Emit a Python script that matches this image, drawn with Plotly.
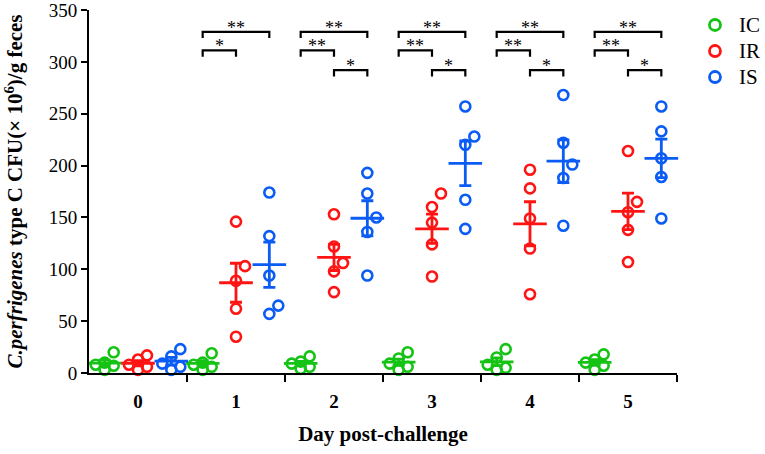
import math
import numpy as np
import plotly.graph_objects as go

# valori (CFU x 10^6 / g feci), 5 animali per gruppo
days = [0, 1, 2, 3, 4, 5]
day_labels = ["0", "1", "2", "3", "4", "5"]
groups = ["IC", "IR", "IS"]
colors = {"IC": "#14C314", "IR": "#FF1414", "IS": "#0A5CF5"}

ic_values = [
    [20, 10, 8, 7, 3],
    [19, 10, 8, 6, 3],
    [16, 11, 9, 6, 4],
    [20, 14, 9, 6, 3],
    [23, 15, 8, 5, 3],
    [18, 13, 10, 7, 3],
]
ir_values = [
    [17, 13, 8, 6, 3],
    [146, 103, 89, 62, 35],
    [153, 122, 106, 98, 78],
    [173, 160, 145, 124, 93],
    [196, 178, 149, 120, 76],
    [214, 165, 155, 138, 107],
]
is_values = [
    [23, 16, 9, 6, 3],
    [174, 132, 94, 65, 57],
    [193, 173, 150, 136, 94],
    [257, 228, 220, 167, 139],
    [268, 222, 201, 188, 142],
    [257, 233, 207, 189, 149],
]

# significativita' per giorno: (gruppo1, gruppo2, livello, etichetta)
sig_day1 = [("IC", "IS", 0, "**"), ("IC", "IR", 1, "*")]
sig_other = [("IC", "IS", 0, "**"), ("IC", "IR", 1, "**"), ("IR", "IS", 2, "*")]
significance = {1: sig_day1, 2: sig_other, 3: sig_other, 4: sig_other, 5: sig_other}

data = {"IC": ic_values, "IR": ir_values, "IS": is_values}

# geometria del grafico
group_offset = {"IC": -0.34, "IR": 0.0, "IS": 0.34}
PX_PER_DAY = 98.0
PX_PER_UNIT = 363.0 / 350.0
bracket_levels = [329, 311, 292]
leg = 6


def swarm(values, min_dist=15.0, step=9.0):
    # disposizione semplice tipo beeswarm, in pixel
    offsets = [0.0] * len(values)
    placed = []
    for i in sorted(range(len(values)), key=lambda k: values[k]):
        best, best_d = 0.0, -1.0
        for k in [0, 1, -1]:
            dx = k * step
            if placed:
                d = min(math.hypot(dx - px, (values[i] - pv) * PX_PER_UNIT) for px, pv in placed)
            else:
                d = math.inf
            if d >= min_dist:
                best, best_d = dx, d
                break
            if d > best_d:
                best, best_d = dx, d
        placed.append((best, values[i]))
        offsets[i] = best / PX_PER_DAY
    return offsets


fig = go.Figure()
font = "Liberation Serif, Times New Roman, serif"

for g in groups:
    xs, ys = [], []
    for d, vals in zip(days, data[g]):
        offs = swarm(vals)
        xs += [d + group_offset[g] + o for o in offs]
        ys += vals
    fig.add_trace(go.Scatter(
        x=xs, y=ys, mode="markers", name=g, showlegend=False,
        marker=dict(symbol="circle-open", size=10, color=colors[g], line=dict(width=2.6)),
        cliponaxis=False,
    ))

for g in groups:
    means = [float(np.mean(v)) for v in data[g]]
    sems = [float(np.std(v, ddof=1) / np.sqrt(len(v))) for v in data[g]]
    fig.add_trace(go.Scatter(
        x=[d + group_offset[g] for d in days], y=means, mode="markers",
        showlegend=False, hoverinfo="skip",
        marker=dict(symbol="line-ew-open", size=24, color=colors[g], line=dict(width=2.8)),
        error_y=dict(type="data", array=sems, visible=True, color=colors[g], thickness=2.8, width=6),
        cliponaxis=False,
    ))

shapes = []
annotations = []
for d, comps in significance.items():
    for g1, g2, lvl, label in comps:
        x1 = d + group_offset[g1]
        x2 = d + group_offset[g2]
        y = bracket_levels[lvl]
        shapes.append(dict(
            type="path", xref="x", yref="y",
            path=f"M {x1},{y - leg} L {x1},{y} L {x2},{y} L {x2},{y - leg}",
            line=dict(color="black", width=2.2),
        ))
        annotations.append(dict(
            x=(x1 + x2) / 2, y=y, xref="x", yref="y", text=label, showarrow=False,
            yanchor="middle", yshift=4, font=dict(family=font, size=18, color="black"),
        ))

# legenda disegnata a mano (spaziatura come nell'originale)
legend_x = 1.0646
legend_y = [0.9587, 0.887, 0.8154]
for g, ly in zip(groups, legend_y):
    shapes.append(dict(
        type="circle", xref="paper", yref="paper", xsizemode="pixel", ysizemode="pixel",
        xanchor=legend_x, yanchor=ly, x0=-5.5, x1=5.5, y0=-5.5, y1=5.5,
        line=dict(color=colors[g], width=2.8),
    ))
    annotations.append(dict(
        x=legend_x, y=ly, xref="paper", yref="paper", text=g, showarrow=False,
        xanchor="left", yanchor="middle", xshift=22,
        font=dict(family=font, size=21, color="black"),
    ))

fig.update_layout(
    width=765, height=454,
    margin=dict(l=89, r=88, t=10, b=81, autoexpand=False),
    plot_bgcolor="white", paper_bgcolor="white",
    font=dict(family=font, color="black"),
    shapes=shapes, annotations=annotations,
    showlegend=False,
)

fig.update_xaxes(
    range=[-0.5, 5.5], tickvals=days, ticktext=["<b>" + t + "</b>" for t in day_labels],
    showgrid=False, zeroline=False, showline=True, linecolor="black", linewidth=2,
    ticks="outside", ticklen=10, tickcolor="rgba(0,0,0,0)", automargin=False,
    tickfont=dict(family=font, size=19, color="black"),
    minor=dict(tickvals=[d + 0.5 for d in days], ticks="outside", ticklen=7,
               tickwidth=2, tickcolor="black", showgrid=False),
    title=dict(text="<b>Day post-challenge</b>", standoff=16,
               font=dict(family=font, size=21, color="black")),
)
fig.update_yaxes(
    range=[0, 350], tickvals=list(range(0, 351, 50)),
    showgrid=False, zeroline=False, showline=True, linecolor="black", linewidth=2,
    ticks="outside", ticklen=6, tickwidth=2, tickcolor="black", automargin=False,
    tickfont=dict(family=font, size=19, color="black"), ticklabeloverflow="allow",
    tickprefix="<b>", ticksuffix="</b>",
    title=dict(text="<b><i>C.perfrigenes</i> type C CFU(× 10<sup>6</sup>)/g feces</b>",
               standoff=20, font=dict(family=font, size=21, color="black")),
)

fig.write_html("out.html", config={"displayModeBar": False},
               post_script="document.body.style.margin='0';")
